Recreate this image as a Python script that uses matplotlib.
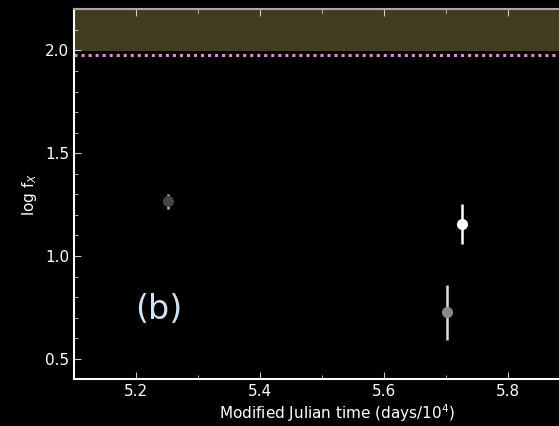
import matplotlib
matplotlib.use("Agg")
import matplotlib.pyplot as plt
from matplotlib.ticker import MultipleLocator

# Data
mjd = [5.2516, 5.725, 5.701]
logfx = [1.266, 1.156, 0.726]
err = [0.036, 0.096, 0.135]
point_colors = ["#454545", "#ffffff", "#8a8a8a"]
err_colors = ["#bbbbbb", "#ffffff", "#dddddd"]
band_low, band_high = 2.0, 2.2
limit_level = 1.979
panel_label = "(b)"

fig = plt.figure(figsize=(5.59, 4.26), dpi=100, facecolor="black")
xlo, xhi = 5.1, 5.95
ppu = 620.0
ax = fig.add_axes([74/559, (426-379.3)/426, (xhi-xlo)*ppu/559, (379.3-9.3)/426])
ax.set_facecolor("black")

ax.axhspan(band_low, band_high, color="#413c22", zorder=1)
ax.axhline(limit_level, color="#e68ad8", lw=2.2, ls=(0, (1, 1.3)), zorder=2)

for x, y, e, c, ec in zip(mjd, logfx, err, point_colors, err_colors):
    ax.errorbar(x, y, yerr=e, fmt="o", color=c, ecolor=ec, ms=7, elinewidth=1.8,
                capsize=0, zorder=3)

ax.text(5.237, 0.74, panel_label, color="#cfe3f0", fontsize=24,
        ha="center", va="center")

ax.set_xlim(xlo, xhi)
ax.set_ylim(0.4, 2.2)
ax.xaxis.set_major_locator(MultipleLocator(0.2))
ax.xaxis.set_minor_locator(MultipleLocator(0.1))
ax.yaxis.set_major_locator(MultipleLocator(0.5))
ax.yaxis.set_minor_locator(MultipleLocator(0.1))

for s in ["left", "bottom"]:
    ax.spines[s].set_color("white")
    ax.spines[s].set_linewidth(1.5)
for s in ["top", "right"]:
    ax.spines[s].set_color("#aaaaaa")
    ax.spines[s].set_linewidth(1.5)

ax.tick_params(which="both", direction="in", top=True, right=True,
               colors="#cccccc", labelcolor="white", labelsize=11)
ax.tick_params(which="major", length=5)
ax.tick_params(which="minor", length=3)

ax.set_xlabel("Modified Julian time (days/10$^4$)", color="white", fontsize=11, labelpad=2)
ax.set_ylabel("log f$_X$", color="white", fontsize=11)

fig.savefig("out.png", dpi=100, facecolor="black")
